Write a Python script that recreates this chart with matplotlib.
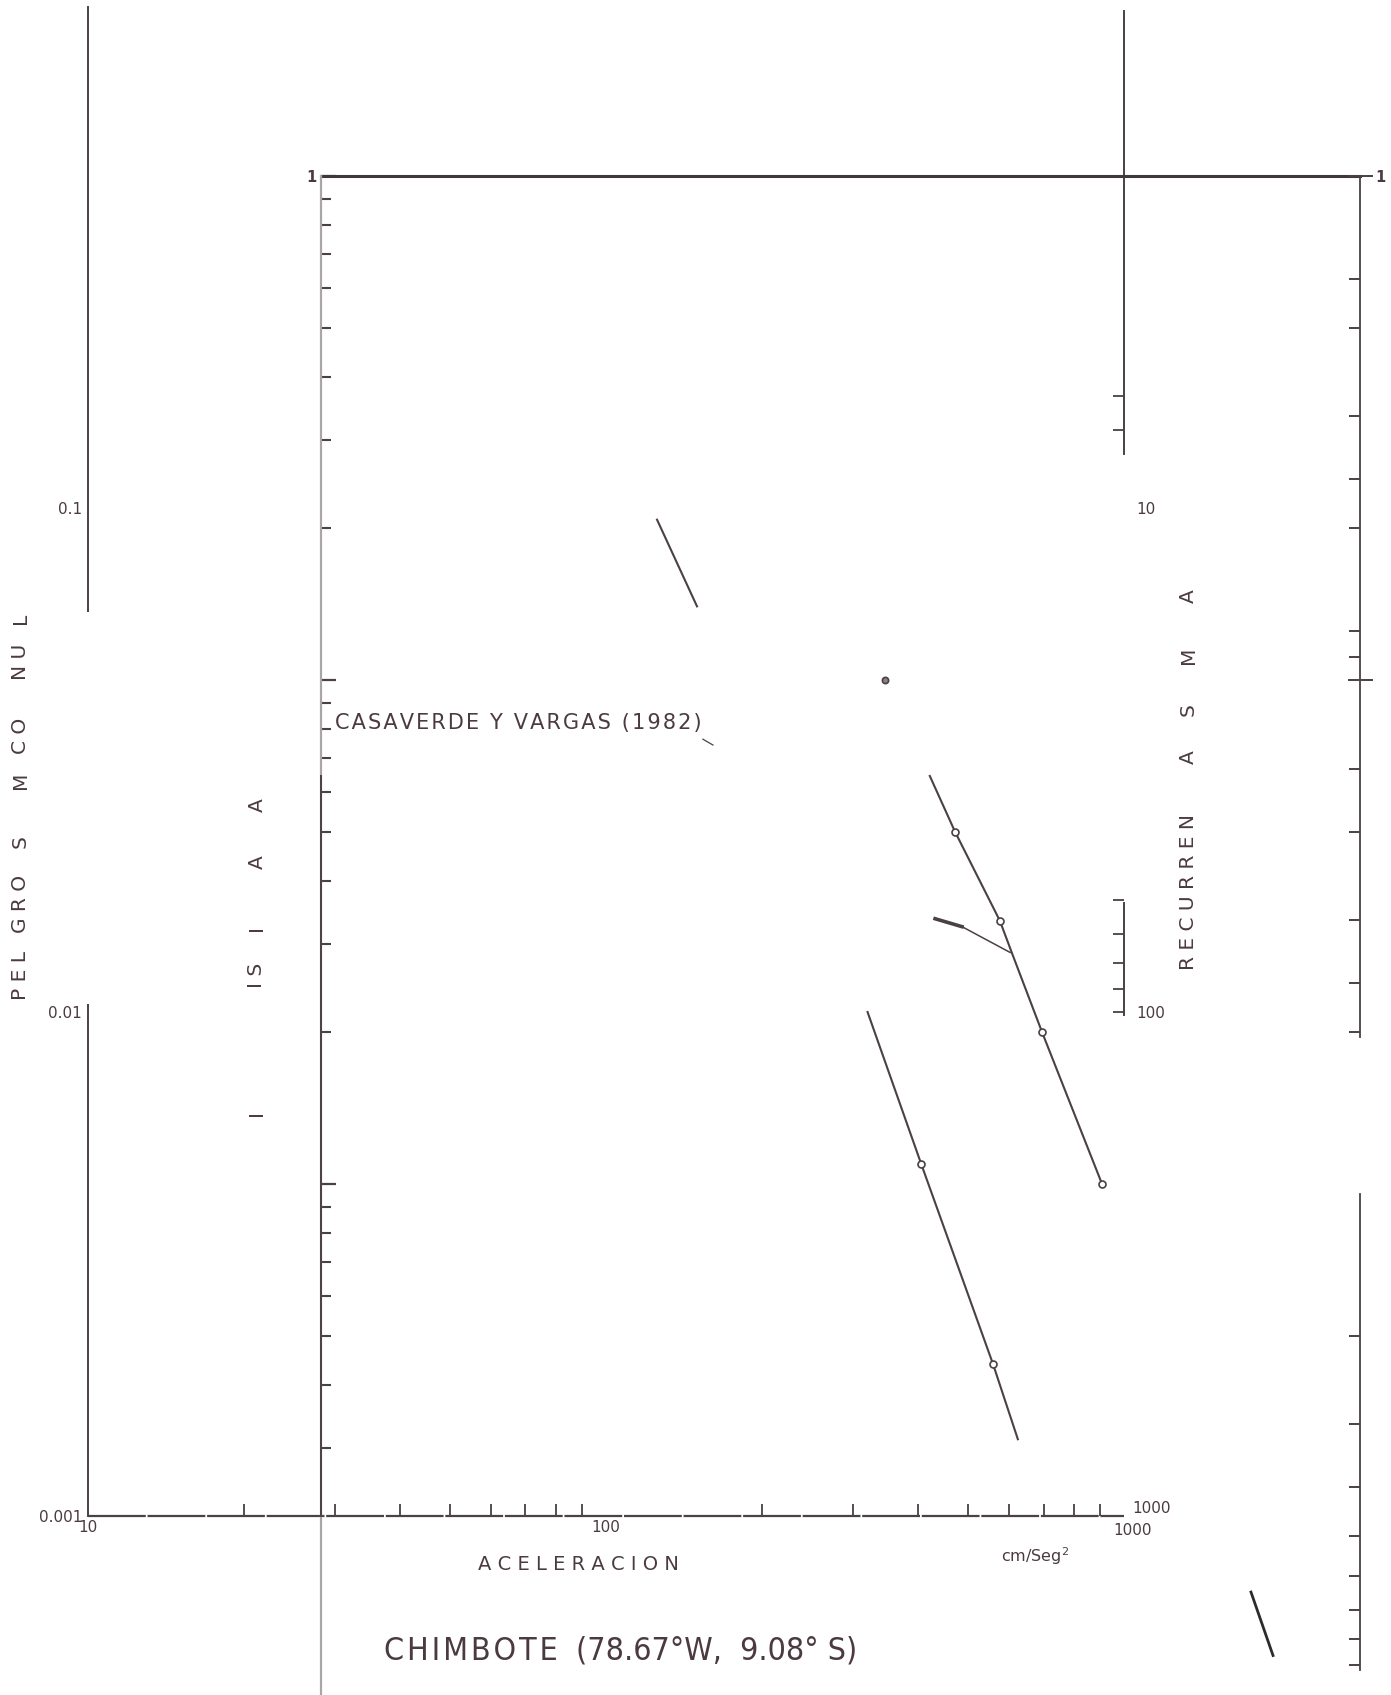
import matplotlib
matplotlib.use("Agg")
import matplotlib.pyplot as plt
from matplotlib import font_manager as fm
from matplotlib.ticker import FixedLocator, FixedFormatter, NullFormatter
from matplotlib.transforms import ScaledTranslation

W, H, DPI = 1391, 1695, 100
INK = "#4a4045"
TXT = "#4b3a42"
PALE = "#aaa6a8"

plt.rcParams['font.family'] = ['DejaVu Sans']

# ---- hazard curves: acceleration (cm/s^2) vs annual probability ----
# curve read on the main probability scale
low_acc = [320, 406, 559, 624]
low_prob = [0.0100, 0.0050, 0.0020, 0.00142]
low_marks = [1, 2]

# curves read on the framed probability scale
up_acc = [422, 472, 576, 608, 695, 907]
up_prob = [0.0645, 0.0500, 0.0333, 0.0287, 0.0200, 0.0100]
up_marks = [1, 2, 4, 5]

branch_acc = [432, 487, 603]
branch_prob = [0.0336, 0.0324, 0.0288]

cv_acc = [125.6, 150.0]          # CASAVERDE Y VARGAS (1982)
cv_prob = [0.208, 0.140]

lead_acc = [154, 161]
lead_prob = [0.0763, 0.0743]

lone_acc = [346]
lone_prob = [0.100]

tail_acc = [1758, 1939]
tail_prob = [0.00155, 0.00116]

# ---- axis ticks ----
x_major = [10, 100, 1000]
x_major_labels = ["10", "100", "1000"]
x_minor = [20, 30, 40, 50, 60, 70, 80, 90, 200, 300, 400, 500, 600, 700, 800, 900]
y_major = [0.001, 0.01, 0.1]
y_major_labels = ["0.001", "0.01", "0.1"]
ret_major = [10, 100, 1000]
ret_major_labels = ["10", "100", "1000"]
ret_minor = [6, 7, 60, 70, 80, 90, 100, 1000]
frame_left_major = [1, 0.1, 0.01]
frame_left_minor = [m * 10.0 ** e for e in (-1, -2, -3) for m in range(2, 10) if m * 10.0 ** e >= 0.003]
frame_periods = [1.6, 2, 3, 4, 5, 8, 9, 15, 20, 30, 40, 50,
                 200, 300, 400, 500, 600, 700, 800, 900]
frame_period_long = [10]


def narrow_font(size):
    """Condensed face for the station title, if one is installed."""
    for fam, stretch, key in [("DejaVu Sans", "condensed", "Condensed"),
                              ("Liberation Sans Narrow", "normal", "Narrow")]:
        fp = fm.FontProperties(family=fam, stretch=stretch, size=size)
        try:
            path = fm.findfont(fp, fallback_to_default=False)
        except Exception:
            continue
        if key in path:
            return fm.FontProperties(fname=path, size=size), True
    return fm.FontProperties(family="DejaVu Sans", size=size * 0.82), False


fig = plt.figure(figsize=(W / DPI, H / DPI), dpi=DPI)
fig.patch.set_facecolor("white")


def box(l, t, r, b):
    return [l / W, 1 - b / H, (r - l) / W, (b - t) / H]


# pixel frame of the main graph
ML, MT, MR, MB = 87.5, 4, 1124, 1516
decx = (MR - ML) / 2.0
decy = (MB - MT) / 3.0

# ---------------- main log-log graph ----------------
ax = fig.add_axes(box(ML, MT, MR, MB))
ax.set_xscale("log")
ax.set_yscale("log")
ax.set_xlim(10, 1000)
ax.set_ylim(0.001, 1)
ax.patch.set_alpha(0)
for s in ax.spines.values():
    s.set_visible(False)

# acceleration axis (slightly broken pen line)
ax.axhline(0.001, color=INK, lw=1.6, ls=(0, (26, 0.8)), clip_on=False, zorder=3)
# probability axis, interrupted
ax.axvline(10, ymin=0.0, ymax=(MB - 1005) / (MB - MT), color=INK, lw=1.4, clip_on=False)
ax.axvline(10, ymin=(MB - 611) / (MB - MT), ymax=(MB - 7) / (MB - MT), color=INK, lw=1.4, clip_on=False)
# recurrence axis, interrupted
ax.axvline(1000, ymin=(MB - 454) / (MB - MT), ymax=(MB - 11) / (MB - MT), color=INK, lw=1.4, clip_on=False)
ax.axvline(1000, ymin=(MB - 1015) / (MB - MT), ymax=(MB - 903) / (MB - MT), color=INK, lw=1.4, clip_on=False)

ax.xaxis.set_major_locator(FixedLocator(x_major))
ax.xaxis.set_major_formatter(FixedFormatter(x_major_labels))
ax.xaxis.set_minor_locator(FixedLocator(x_minor))
ax.xaxis.set_minor_formatter(NullFormatter())
ax.tick_params(axis="x", which="both", direction="in", length=9, width=1.3,
               color=INK, labelcolor=TXT, labelsize=11, pad=3)
ax.tick_params(axis="x", which="major", length=0)

ax.yaxis.set_major_locator(FixedLocator(y_major))
ax.yaxis.set_major_formatter(FixedFormatter(y_major_labels))
ax.yaxis.set_minor_locator(FixedLocator([]))
ax.tick_params(axis="y", which="both", length=0, labelcolor=TXT, labelsize=11, pad=4)

ret = ax.twinx()
ret.set_yscale("log")
ret.set_ylim(1000, 1)
for s in ret.spines.values():
    s.set_visible(False)
ret.yaxis.remove_overlapping_locs = False
ret.yaxis.set_major_locator(FixedLocator(ret_major))
ret.yaxis.set_major_formatter(FixedFormatter(ret_major_labels))
ret.yaxis.set_minor_locator(FixedLocator(ret_minor))
ret.yaxis.set_minor_formatter(NullFormatter())
ret.tick_params(axis="y", which="major", length=0, labelcolor=TXT, labelsize=11, pad=9)
ret.tick_params(axis="y", which="minor", direction="in", length=8, width=1.3, color=INK)

fig.canvas.draw()
# the two "1000" labels sit one above the other at the right-hand corner
for lbl in ret.get_yticklabels():
    if lbl.get_text() == "1000":
        lbl.set_transform(lbl.get_transform() + ScaledTranslation(-4 / DPI, 9 / DPI, fig.dpi_scale_trans))
for lbl in ax.get_xticklabels():
    if lbl.get_text() == "1000":
        lbl.set_transform(lbl.get_transform() + ScaledTranslation(9 / DPI, -3 / DPI, fig.dpi_scale_trans))

ax.plot(low_acc, low_prob, color=INK, lw=1.5, zorder=4)
ax.plot([low_acc[i] for i in low_marks], [low_prob[i] for i in low_marks], "o",
        ms=5, mfc="white", mec=INK, mew=1.2, zorder=5)

# ---------------- framed probability graph ----------------
FL, FT, FR, FB = 321, 176, 1360, H
fr = fig.add_axes(box(FL, FT, FR, FB))
fr.set_xscale("log")
fr.set_yscale("log")
fr.set_xlim(10 ** (1 + (FL - ML) / decx), 10 ** (1 + (FR - ML) / decx))
fr.set_ylim(10 ** (-(FB - FT) / decy), 1)
fr.patch.set_alpha(0)
for s in fr.spines.values():
    s.set_visible(False)

fr.axhline(1, color="#3e383b", lw=2.2, clip_on=False)
fr.axvline(fr.get_xlim()[0], 0, 1, color=PALE, lw=1.6, clip_on=False)
fr.axvline(fr.get_xlim()[0], (FB - 1516) / (FB - FT), (FB - 776) / (FB - FT),
           color=INK, lw=1.4, clip_on=False)
fr.axvline(fr.get_xlim()[1], (FB - 1037) / (FB - FT), 1, color=INK, lw=1.3, clip_on=False)
fr.axvline(fr.get_xlim()[1], (FB - 1670) / (FB - FT), (FB - 1194) / (FB - FT),
           color=INK, lw=1.3, clip_on=False)

fr.xaxis.set_major_locator(FixedLocator([]))
fr.xaxis.set_minor_locator(FixedLocator([]))
fr.yaxis.set_major_locator(FixedLocator(frame_left_major))
fr.yaxis.set_major_formatter(FixedFormatter(["1", "", ""]))
fr.yaxis.set_minor_locator(FixedLocator(frame_left_minor))
fr.yaxis.set_minor_formatter(NullFormatter())
fr.tick_params(axis="y", which="major", direction="in", length=11, width=1.6,
               color=INK, labelcolor=TXT, labelsize=10.5, pad=3)
fr.tick_params(axis="y", which="minor", direction="in", length=7, width=1.5, color=INK)
for lbl in fr.get_yticklabels():
    lbl.set_fontweight("bold")

frt = fr.twinx()
frt.set_yscale("log")
frt.set_ylim(fr.get_ylim())
for s in frt.spines.values():
    s.set_visible(False)
frt.yaxis.remove_overlapping_locs = False
frt.yaxis.set_major_locator(FixedLocator([1] + [1.0 / p for p in frame_period_long]))
frt.yaxis.set_major_formatter(FixedFormatter(["1", ""]))
frt.yaxis.set_minor_locator(FixedLocator([1.0 / p for p in frame_periods]))
frt.yaxis.set_minor_formatter(NullFormatter())
frt.tick_params(axis="y", which="major", direction="inout", length=18, width=1.4,
                color=INK, labelcolor=TXT, labelsize=10.5, pad=2)
frt.tick_params(axis="y", which="minor", direction="in", length=8, width=1.4, color=INK)
for lbl in frt.get_yticklabels():
    lbl.set_fontweight("bold")

fr.plot(up_acc, up_prob, color=INK, lw=1.5, zorder=4)
fr.plot([up_acc[i] for i in up_marks], [up_prob[i] for i in up_marks], "o",
        ms=5, mfc="white", mec=INK, mew=1.2, zorder=5)
fr.plot(branch_acc, branch_prob, color=INK, lw=1.1, zorder=4)
fr.plot(branch_acc[:2], branch_prob[:2], color=INK, lw=2.6, zorder=4)
fr.plot(cv_acc, cv_prob, color=INK, lw=1.5)
fr.plot(lead_acc, lead_prob, color=INK, lw=0.9)
fr.plot(lone_acc, lone_prob, "o", ms=4.5, mfc="#8a8086", mec=INK, mew=1.2)
fr.plot(tail_acc, tail_prob, color="#2f2a2d", lw=2.0)

# ---------------- lettering ----------------
HAIR = "\u200a"


def spaced(s):
    return " ".join(s)


def tracked(s):
    return HAIR.join(s)


def px(xp, yp):
    return xp / W, 1 - yp / H


LET = dict(color=TXT, rotation=90, ha="center", va="center", fontsize=14.5)
for word, yc in [("PEL", 976), ("GRO", 904), ("S", 842), ("M", 780),
                 ("CO", 736), ("NU", 662), ("L", 618)]:
    fig.text(*px(20, yc), spaced(word), **LET)
for word, yc in [("I", 1113), ("IS", 975), ("I", 928), ("A", 862), ("A", 805)]:
    fig.text(*px(257, yc), spaced(word), **LET)
for word, yc in [("RECURREN", 892), ("A", 757), ("S", 710), ("M", 655), ("A", 596)]:
    fig.text(*px(1188, yc), spaced(word), **LET)

fig.text(*px(335, 723), tracked("CASAVERDE Y VARGAS (1982)"), color=TXT, fontsize=15,
         ha="left", va="center")
fig.text(*px(578, 1564), spaced("ACELERACION"), color=TXT, fontsize=14,
         ha="center", va="center")
fig.text(*px(1035, 1556), r"cm/Seg$^2$", color=TXT, fontsize=11.5,
         ha="center", va="center")

title_fp, is_narrow = narrow_font(23)
title = tracked("CHIMBOTE") + "  (78.67°W,  9.08° S)"
fig.text(*px(621, 1651), title, color=TXT, fontproperties=title_fp,
         ha="center", va="center")

fig.savefig("out.png", dpi=DPI, facecolor="white")
